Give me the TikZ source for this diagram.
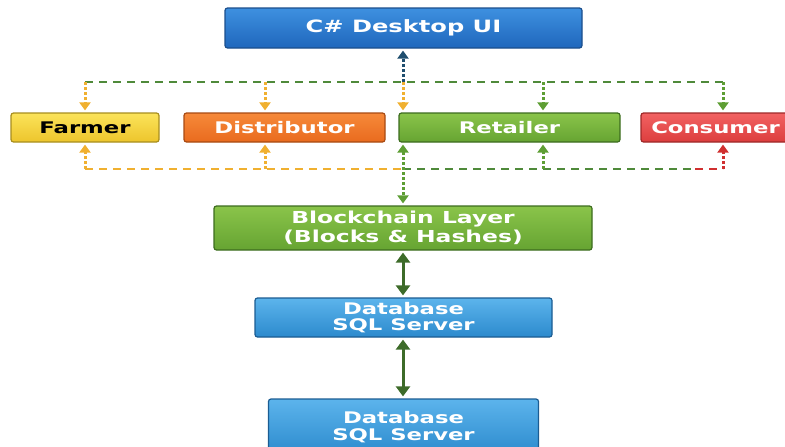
\documentclass[tikz,border=0pt]{standalone}
\usepackage{fontspec}
\newfontfamily\boxfont[FakeStretch=1.42]{DejaVu Sans}
\usetikzlibrary{arrows.meta}

\definecolor{uitop}{HTML}{3E90E0}
\definecolor{uibot}{HTML}{1F67BC}
\definecolor{uiline}{HTML}{1B4E8C}
\definecolor{farmtop}{HTML}{FBE35A}
\definecolor{farmbot}{HTML}{EDC52C}
\definecolor{farmline}{HTML}{A88E1E}
\definecolor{disttop}{HTML}{F6893A}
\definecolor{distbot}{HTML}{E96B1E}
\definecolor{distline}{HTML}{A84A12}
\definecolor{greentop}{HTML}{8AC44A}
\definecolor{greenbot}{HTML}{66A432}
\definecolor{greenline}{HTML}{3C6C1E}
\definecolor{constop}{HTML}{F26262}
\definecolor{consbot}{HTML}{DC3E3E}
\definecolor{consline}{HTML}{9E2828}
\definecolor{dbtop}{HTML}{5CB4EC}
\definecolor{dbbot}{HTML}{2C8ACD}
\definecolor{dbline}{HTML}{1B5C92}
\definecolor{busgreen}{HTML}{4F8A3A}
\definecolor{tickorange}{HTML}{F0B030}
\definecolor{tickgreen}{HTML}{5E9E34}
\definecolor{tickred}{HTML}{D03030}
\definecolor{uidark}{HTML}{1F4E6E}
\definecolor{linkgreen}{HTML}{3D6B29}

\begin{document}
\begin{tikzpicture}[x=1pt, y=-1pt,
        box/.style={draw, line width=1.2pt, rounded corners=2.5pt, align=center,
            inner sep=0pt, text=white,
            font=\boxfont\bfseries\fontsize{16}{16.5}\selectfont},
        bus/.style={line width=1.8pt, dash pattern=on 8pt off 6pt},
        tick/.style={line width=3pt, dash pattern=on 3pt off 2pt, shorten >=2pt,
            -{Triangle[length=8pt,width=11pt]}},
        link/.style={line width=3pt, linkgreen, shorten <=2pt, shorten >=2pt,
            {Triangle[length=10pt,width=14pt]}-{Triangle[length=10pt,width=14pt]}}]

        \useasboundingbox (0,0) rectangle (785,447);
        \clip (0,0) rectangle (785,447);

        % boxes
        \node[box, top color=uitop, bottom color=uibot, draw=uiline,
            minimum width=357, minimum height=40,
            font=\boxfont\bfseries\fontsize{17}{19}\selectfont] (ui) at (403.5,28) {C\# Desktop UI};

        \node[box, top color=farmtop, bottom color=farmbot, draw=farmline, text=black,
            minimum width=148, minimum height=29] (farmer) at (85,127.5) {Farmer};
        \node[box, top color=disttop, bottom color=distbot, draw=distline,
            minimum width=201, minimum height=29] (dist) at (284.5,127.5) {Distributor};
        \node[box, top color=greentop, bottom color=greenbot, draw=greenline,
            minimum width=221, minimum height=29] (retail) at (509.5,127.5) {Retailer};
        \node[box, top color=constop, bottom color=consbot, draw=consline,
            minimum width=149, minimum height=29] (cons) at (715.5,127.5) {Consumer};

        \node[box, top color=greentop, bottom color=greenbot, draw=greenline,
            minimum width=378, minimum height=44,
            font=\boxfont\bfseries\fontsize{16.5}{19}\selectfont] (chain) at (403,228) {Blockchain Layer\\(Blocks \& Hashes)};

        \node[box, top color=dbtop, bottom color=dbbot, draw=dbline,
            minimum width=297, minimum height=39] (db1) at (403.5,317.5) {Database\\SQL Server};
        \node[box, top color=dbtop, bottom color=dbbot, draw=dbline,
            minimum width=270, minimum height=56] (db2) at (403.5,427) {Database\\SQL Server};

        % bus lines
        \foreach \i/\x in {1/85,2/265,3/403,4/543,5/723} {
            \coordinate (t\i) at (\x,82);
            \coordinate (b\i) at (\x,169);
        }
        \coordinate (br) at (695,169);

        \draw[bus, busgreen] (t1) -- (t5);
        \draw[bus, tickorange] (b1) -- (b3);
        \draw[bus, busgreen] (b3) -- (br);
        \draw[bus, tickred] (br) -- (b5);

        % arrows into the role boxes
        \draw[tick, tickorange] (t1) -- (t1 |- farmer.north);
        \draw[tick, tickorange] (b1) -- (b1 |- farmer.south);
        \draw[tick, tickorange] (t2) -- (t2 |- dist.north);
        \draw[tick, tickorange] (b2) -- (b2 |- dist.south);
        \draw[tick, tickorange] (t3) -- (t3 |- retail.north);
        \draw[tick, tickgreen] (t4) -- (t4 |- retail.north);
        \draw[tick, tickgreen] (b4) -- (b4 |- retail.south);
        \draw[tick, tickgreen] (t5) -- (t5 |- cons.north);
        \draw[tick, tickred] (b5) -- (b5 |- cons.south);

        \draw[tick, uidark] (t3) -- (t3 |- ui.south);
        \draw[tick, tickgreen, shorten <=2pt, {Triangle[length=8pt,width=11pt]}-{Triangle[length=8pt,width=11pt]}]
            (t3 |- retail.south) -- (t3 |- chain.north);

        % storage links
        \draw[link] (chain.south) -- (chain.south |- db1.north);
        \draw[link] (chain.south |- db1.south) -- (chain.south |- db2.north);
    \end{tikzpicture}
\end{document}
